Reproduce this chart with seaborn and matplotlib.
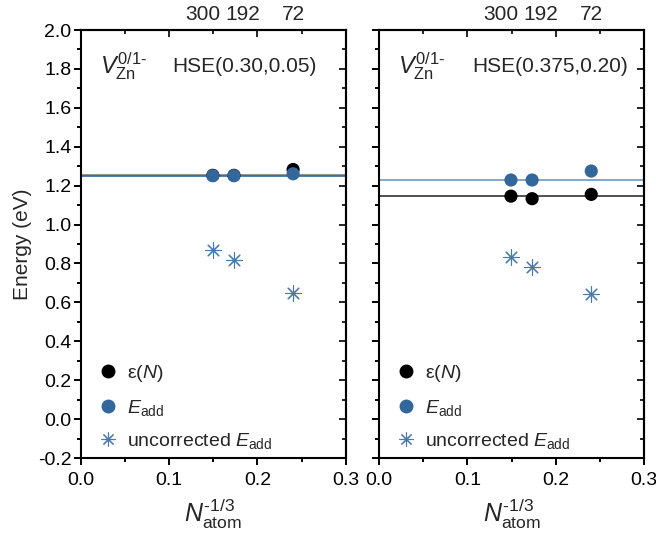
import numpy as np
import pandas as pd
import seaborn as sns
import matplotlib
matplotlib.use("Agg")
import matplotlib.pyplot as plt
from matplotlib.ticker import MultipleLocator, FixedLocator, NullFormatter
from matplotlib.transforms import ScaledTranslation
from matplotlib.lines import Line2D

# ---------------- data ----------------
n_atoms = [300, 192, 72]
size_labels = ["300", "192", "72"]

left_eps = [1.253, 1.253, 1.283]
left_eadd = [1.251, 1.251, 1.261]
left_uncorr = [0.867, 0.817, 0.649]
left_eps_line = 1.254
left_eadd_line = 1.249

right_eps = [1.146, 1.133, 1.155]
right_eadd = [1.229, 1.229, 1.275]
right_uncorr = [0.834, 0.783, 0.641]
right_eps_line = 1.146
right_eadd_line = 1.229

panel_titles = ["HSE(0.30,0.05)", "HSE(0.375,0.20)"]
defect_label = r"$V_{\mathrm{Zn}}^{\mathrm{0/1}\text{-}}$"
legend_labels = [r"ε($\it{N}$)", r"$E_{\mathrm{add}}$", r"uncorrected $E_{\mathrm{add}}$"]

# ---------------- style ----------------
sns.set_theme(style="white")
plt.rcParams["font.family"] = ["Liberation Sans", "DejaVu Sans"]
plt.rcParams["mathtext.fontset"] = "custom"
plt.rcParams["mathtext.rm"] = "Liberation Sans"
plt.rcParams["mathtext.it"] = "Liberation Sans:italic"
plt.rcParams["mathtext.bf"] = "Liberation Sans:bold"
plt.rcParams["axes.unicode_minus"] = False

BLUE = "#33679b"
STAR_BLUE = "#4a7aab"
BLUE_LINE = "#6b98c3"
BLACK = "#000000"
FS = 14

x_vals = [n ** (-1.0 / 3.0) for n in n_atoms]

fig = plt.figure(figsize=(6.56, 5.33), dpi=100)
axL = fig.add_axes([0.1235, 0.1407, 0.4035, 0.803])
axR = fig.add_axes([0.578, 0.1407, 0.4035, 0.803])

panels = [
    (axL, left_eps, left_eadd, left_uncorr, left_eps_line, left_eadd_line, "#7f7f7f", BLUE),
    (axR, right_eps, right_eadd, right_uncorr, right_eps_line, right_eadd_line, "#333333", BLUE_LINE),
]

star = (8, 2, 0)

for i, (ax, eps, eadd, unc, l_eps, l_eadd, c_eps_line, c_eadd_line) in enumerate(panels):
    df = pd.DataFrame({"x": x_vals, "eps": eps, "eadd": eadd, "unc": unc})
    ax.axhline(l_eps, color=c_eps_line, lw=1.2, zorder=1)
    ax.axhline(l_eadd, color=c_eadd_line, lw=1.2, zorder=1)
    sns.scatterplot(data=df, x="x", y="eps", ax=ax, color=BLACK, s=90,
                    edgecolor="none", zorder=3)
    sns.scatterplot(data=df, x="x", y="eadd", ax=ax, color=BLUE, s=90,
                    edgecolor="none", zorder=4)
    sns.scatterplot(data=df, x="x", y="unc", ax=ax, color=STAR_BLUE, s=120,
                    marker=star, linewidth=0.8, zorder=4)

    ax.set_xlim(0, 0.3)
    ax.set_ylim(-0.2, 2.0)
    ax.xaxis.set_major_locator(MultipleLocator(0.1))
    ax.xaxis.set_minor_locator(MultipleLocator(0.05))
    ax.yaxis.set_major_locator(MultipleLocator(0.2))
    ax.yaxis.set_minor_locator(MultipleLocator(0.1))
    ax.xaxis.set_major_formatter(matplotlib.ticker.FormatStrFormatter("%.1f"))
    ax.yaxis.set_major_formatter(matplotlib.ticker.FormatStrFormatter("%.1f"))
    ax.tick_params(which="both", direction="out", bottom=True, left=True,
                   top=False, right=False, width=1.4, colors="black",
                   labelsize=FS)
    ax.tick_params(which="major", length=5)
    ax.tick_params(which="minor", length=3)
    ax.tick_params(axis="y", which="major", pad=2)
    ax.tick_params(axis="x", which="major", pad=5)
    for sp in ax.spines.values():
        sp.set_linewidth(1.5)
        sp.set_color("black")
        sp.set_visible(True)

    # inward mirrored ticks on top and right
    sx = ax.secondary_xaxis("top")
    sx.xaxis.set_major_locator(MultipleLocator(0.1))
    sx.xaxis.set_minor_locator(MultipleLocator(0.05))
    sx.xaxis.set_major_formatter(NullFormatter())
    sx.tick_params(which="both", direction="in", width=1.4)
    sx.tick_params(which="major", length=5)
    sx.tick_params(which="minor", length=3)
    sx.spines["top"].set_linewidth(1.5)

    sy = ax.secondary_yaxis("right")
    sy.yaxis.set_major_locator(MultipleLocator(0.2))
    sy.yaxis.set_minor_locator(MultipleLocator(0.1))
    sy.yaxis.set_major_formatter(NullFormatter())
    sy.tick_params(which="both", direction="in", width=1.4)
    sy.tick_params(which="major", length=5)
    sy.tick_params(which="minor", length=3)
    sy.spines["right"].set_linewidth(1.5)

    # supercell size labels on top
    st = ax.secondary_xaxis("top")
    st.xaxis.set_major_locator(FixedLocator(x_vals))
    st.set_xticklabels(size_labels, fontsize=FS + 1)
    st.tick_params(length=0, pad=4)
    st.spines["top"].set_visible(False)
    offsets = [-10, 9, 0]
    for lab, dx in zip(st.get_xticklabels(), offsets):
        lab.set_transform(lab.get_transform() + ScaledTranslation(dx / 100.0, 0, fig.dpi_scale_trans))

    ax.set_xlabel(r"$N_{\mathrm{atom}}^{\text{-}\mathrm{1/3}}$", fontsize=18, labelpad=6)
    if i == 0:
        ax.set_ylabel("Energy (eV)", fontsize=FS + 1, labelpad=4)
    else:
        ax.set_ylabel("")
        ax.set_yticklabels([])

    ax.text(0.07, 0.915, defect_label, transform=ax.transAxes, fontsize=FS + 3,
            ha="left", va="center")
    ax.text(0.345 if i == 0 else 0.35, 0.915, panel_titles[i], transform=ax.transAxes,
            fontsize=FS + 1, ha="left", va="center")

    handles = [
        Line2D([], [], ls="none", marker="o", color=BLACK, markersize=9),
        Line2D([], [], ls="none", marker="o", color=BLUE, markersize=9),
        Line2D([], [], ls="none", marker=star, color=STAR_BLUE, markersize=10, mew=0.8),
    ]
    ax.legend(handles, legend_labels, loc="lower left", bbox_to_anchor=(0.0, -0.025),
              frameon=False, fontsize=FS, handlelength=1.0, handletextpad=0.45,
              labelspacing=0.7)

fig.savefig("out.png", dpi=100)
